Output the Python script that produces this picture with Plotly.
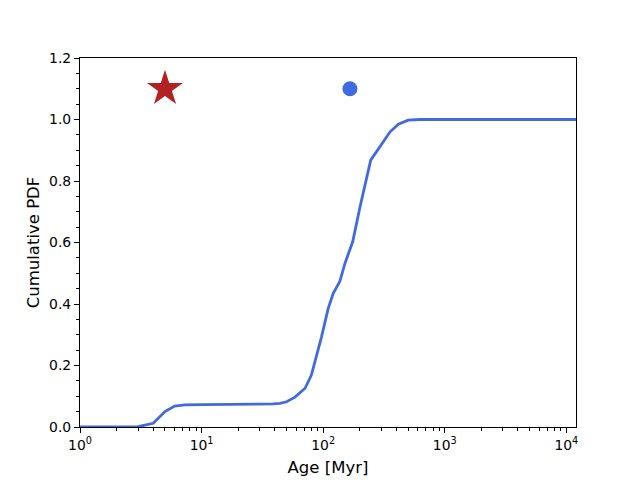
import numpy as np
import plotly.graph_objects as go

age = [1.0, 2.0, 3.0, 4.0, 5.0, 6.0, 7.3, 10, 20, 30, 38.6, 44, 50, 58.6, 71, 80, 88, 97,
       110, 121, 137, 151, 175, 201, 246, 293, 355, 415, 500, 625, 1000, 12000]
cdf = [0.0, 0.0, 0.001, 0.012, 0.05, 0.068, 0.072, 0.073, 0.073, 0.074, 0.075, 0.077, 0.082,
       0.097, 0.126, 0.169, 0.229, 0.294, 0.386, 0.435, 0.473, 0.532, 0.603, 0.716, 0.868,
       0.912, 0.960, 0.985, 0.998, 1.0, 1.0, 1.0]

star_age = [5.0]
star_y = [1.1]
circ_age = [166]
circ_y = [1.1]

xtick_vals = [1, 10, 100, 1000, 10000]
xtick_text = ["10<sup>0</sup>", "10<sup>1</sup>", "10<sup>2</sup>", "10<sup>3</sup>", "10<sup>4</sup>"]
ytick_vals = [0.0, 0.2, 0.4, 0.6, 0.8, 1.0, 1.2]
ytick_text = ["0.0", "0.2", "0.4", "0.6", "0.8", "1.0", "1.2"]

xminor = [m * 10 ** d for d in range(0, 5) for m in range(2, 10) if m * 10 ** d <= 12000]
yminor = [round(0.05 * i, 2) for i in range(0, 25)]

fig = go.Figure()
fig.add_trace(go.Scatter(x=age, y=cdf, mode="lines",
                         line=dict(color="#4169E1", width=2.8), showlegend=False))
fig.add_trace(go.Scatter(x=star_age, y=star_y, mode="markers",
                         marker=dict(symbol="star", size=27, color="#B22222"), showlegend=False))
fig.add_trace(go.Scatter(x=circ_age, y=circ_y, mode="markers",
                         marker=dict(symbol="circle", size=15, color="#4169E1"), showlegend=False))

fig.update_layout(
    width=640, height=480,
    margin=dict(l=72, r=72, t=50, b=61),
    plot_bgcolor="white", paper_bgcolor="white",
    font=dict(family="DejaVu Sans", size=13.9, color="black"),
    xaxis=dict(type="log", range=[0, np.log10(12000)],
               tickvals=xtick_vals, ticktext=xtick_text,
               ticks="outside", ticklen=5, tickwidth=1.1, tickcolor="black",
               showline=True, linecolor="black", linewidth=1.1, mirror=True,
               showgrid=False, zeroline=False,
               minor=dict(tickvals=xminor, ticks="outside", ticklen=3, tickwidth=0.8,
                          tickcolor="black", showgrid=False),
               title=dict(text="Age [Myr]", font=dict(size=16.5, family="DejaVu Sans"), standoff=9),
               tickfont=dict(size=13.9)),
    yaxis=dict(range=[0, 1.2],
               tickvals=ytick_vals, ticktext=ytick_text,
               ticks="outside", ticklen=5, tickwidth=1.1, tickcolor="black",
               showline=True, linecolor="black", linewidth=1.1, mirror=True,
               showgrid=False, zeroline=False,
               minor=dict(tickvals=yminor, ticks="outside", ticklen=3, tickwidth=0.8,
                          tickcolor="black", showgrid=False),
               title=dict(text="Cumulative PDF", font=dict(size=16.5, family="DejaVu Sans"), standoff=5),
               tickfont=dict(size=13.9)),
)
fig.write_html("out.html")
